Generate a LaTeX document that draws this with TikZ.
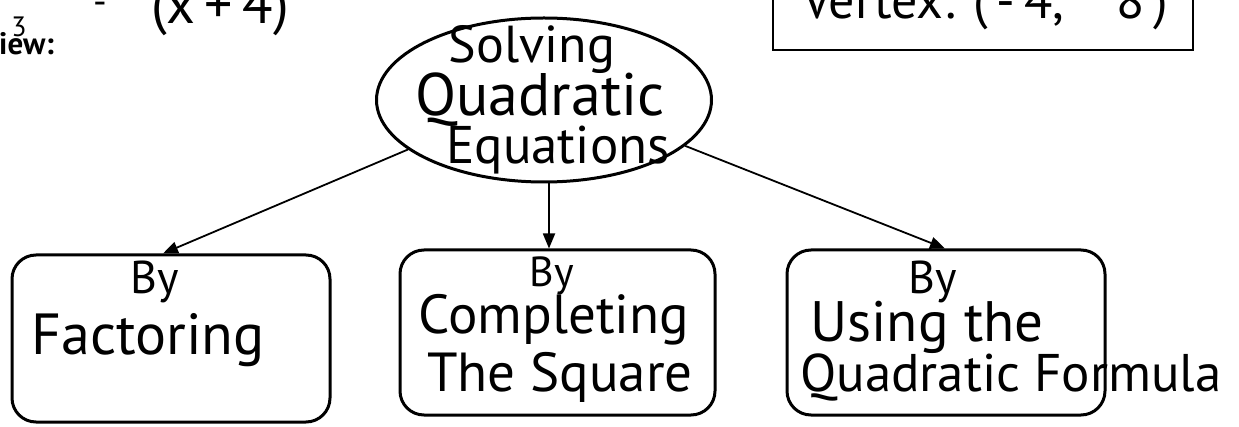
\documentclass[tikz,border=0pt]{standalone}
\usepackage{fontspec}
\setmainfont{PT Sans}
\usetikzlibrary{arrows.meta,shapes.geometric}
\tikzset{
  hand/.style={font=\fontsize{50}{50}\selectfont, inner sep=0pt, anchor=center},
  topic/.style={ellipse, draw, line width=3pt, minimum width=335pt, minimum height=164pt, inner sep=0pt},
  way/.style={draw, rounded corners=24pt, line width=3pt, inner sep=0pt},
  link/.style={line width=1.8pt, -{Triangle[length=15pt,width=12pt]}},
}
\begin{document}
\begin{tikzpicture}[x=1pt,y=-1pt]
\useasboundingbox (0,0) rectangle (1239,427);
\fill[white] (0,0) rectangle (1239,427);
% top-left fragments
\draw[line width=1.5pt, gray!60] (0,-1) -- (45,-1);
\node[hand, font=\fontsize{28}{28}\selectfont] (three) at (19,27) {3};
\node[hand, font=\fontsize{38}{38}\selectfont] (minus) at (100,8) {-};
\node[hand, font=\fontsize{56}{56}\selectfont] (xp4) at (220,10) {(x\,+\,4)};
\node[inner sep=0pt, anchor=base west, font=\fontsize{31}{31}\selectfont\bfseries] (review) at (-1,55) {iew:};
% top-right vertex box
\draw[line width=2.4pt] (773,-5) -- (773,50) -- (1193,50) -- (1193,-5);
\node[hand, font=\fontsize{52}{52}\selectfont] (vertex) at (985,6) {Vertex: (\,-\,4,\quad 8\,)};
% central ellipse
\node[topic] (q) at (544,100) {};
\node[hand, font=\fontsize{52}{52}\selectfont] (l1) at (532,50) {Solving};
\node[hand, font=\fontsize{60}{60}\selectfont] (l2) at (540,100) {Quadratic};
\node[hand, font=\fontsize{53}{53}\selectfont] (l3) at (558,150) {Equations};
% boxes
\node[way, minimum width=318pt, minimum height=167pt] (b1) at (171,338.5) {};
\node[way, minimum width=315pt, minimum height=165pt] (b2) at (557.5,332.5) {};
\node[way, minimum width=318pt, minimum height=165pt] (b3) at (946,332.5) {};
\node[hand, font=\fontsize{46}{46}\selectfont] (t1a) at (155,282) {By};
\node[hand, font=\fontsize{58}{58}\selectfont] (t1b) at (148,340) {Factoring};
\node[hand, font=\fontsize{42}{42}\selectfont] (t2a) at (552,276) {By};
\node[hand, font=\fontsize{55}{55}\selectfont] (t2b) at (554,320) {Completing};
\node[hand, font=\fontsize{55}{55}\selectfont] (t2c) at (560,377) {The Square};
\node[hand, font=\fontsize{46}{46}\selectfont] (t3a) at (933,282) {By};
\node[hand, font=\fontsize{57}{57}\selectfont] (t3b) at (927,327) {Using the};
\node[hand, font=\fontsize{53}{53}\selectfont] (t3c) at (1011,377) {Quadratic Formula};
% connectors
\draw[link] (q.200) -- (b1.north -| 163,0);
\draw[link] (q.south -| 549,0) -- (b2.north -| 549,0);
\draw[link] (q.-18) -- (b3.north -| 945,0);
\end{tikzpicture}
\end{document}
